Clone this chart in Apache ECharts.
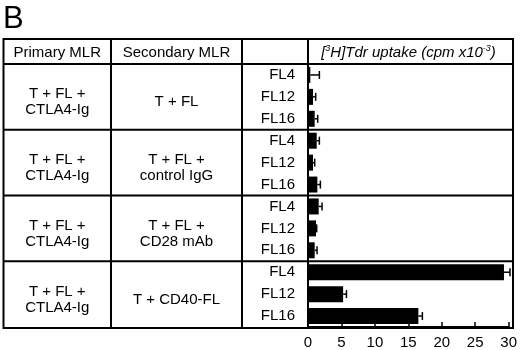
<!DOCTYPE html>
<html><head><meta charset="utf-8">
<script src="https://cdn.jsdelivr.net/npm/echarts@6/dist/echarts.min.js"></script>
<style>html,body{margin:0;padding:0;background:#fff}#c{width:520px;height:350px}</style>
</head><body><div id="c"></div>
<script>
// ---- data ----
const lines = ['FL4', 'FL12', 'FL16'];
const primaryMLR = ['T + FL +\nCTLA4-Ig', 'T + FL +\nCTLA4-Ig', 'T + FL +\nCTLA4-Ig', 'T + FL +\nCTLA4-Ig'];
const secondaryMLR = ['T + FL', 'T + FL +\ncontrol IgG', 'T + FL +\nCD28 mAb', 'T + CD40-FL'];
const uptake = [0.35, 0.75, 1.0, 1.3, 0.75, 1.4, 1.6, 1.2, 1.0, 29.3, 5.25, 16.5];
const uptakeErr = [1.35, 0.4, 0.45, 0.4, 0.25, 0.45, 0.5, 0.1, 0.35, 0.9, 0.5, 0.6];
const xMin = 0, xMax = 30, xStep = 5;
const headers = ['Primary MLR', 'Secondary MLR'];

const catIds = [];
secondaryMLR.forEach((g, gi) => lines.forEach(l => catIds.push('g' + gi + '|' + l)));

const FONT = '"Liberation Sans", Arial, sans-serif';
const chart = echarts.init(document.getElementById('c'), null, {renderer: 'canvas'});
const gridTop = 64, gridBottom = 22, gridLeft = 308, gridRight = 11;

chart.setOption({
  animation: false,
  backgroundColor: '#fff',
  grid: {left: gridLeft, right: gridRight, top: gridTop, bottom: gridBottom},
  xAxis: {
    type: 'value', min: xMin, max: xMax, interval: xStep,
    axisLine: {show: true, lineStyle: {color: '#000', width: 2}},
    axisTick: {show: true, inside: true, length: 5, lineStyle: {color: '#000', width: 1.5}},
    axisLabel: {color: '#000', fontFamily: FONT, fontSize: 15, margin: 8},
    splitLine: {show: false}
  },
  yAxis: {
    type: 'category', inverse: true, data: catIds,
    axisLine: {show: true, lineStyle: {color: '#000', width: 2}},
    axisTick: {show: false},
    axisLabel: {color: '#000', fontFamily: FONT, fontSize: 15, margin: 13,
      formatter: v => v.split('|')[1]},
    splitLine: {show: false}
  },
  series: [
    {type: 'bar', data: uptake, barWidth: 16, itemStyle: {color: '#000'}, z: 3},
    {type: 'custom', z: 4,
      data: uptake.map((v, i) => [v, catIds[i], uptakeErr[i]]),
      encode: {x: 0, y: 1},
      renderItem: function (params, api) {
        const v = api.value(0), idx = api.value(1), e = api.value(2);
        const a = api.coord([v, idx]), b = api.coord([v + e, idx]);
        const st = {stroke: '#000', lineWidth: 1.5};
        return {type: 'group', children: [
          {type: 'line', shape: {x1: a[0], y1: a[1], x2: b[0], y2: b[1]}, style: st},
          {type: 'line', shape: {x1: b[0], y1: b[1] - 4, x2: b[0], y2: b[1] + 4}, style: st}
        ]};
      }}
  ]
});

// ---- table frame & text (positions derived from the axis) ----
const H = 350;
const tLeft = 3.5, tRight = 513, tTop = 39;
const tBottom = H - gridBottom;
const c1 = 111, c2 = 242, c3 = gridLeft;
const centers = catIds.map(id => chart.convertToPixel({yAxisIndex: 0}, id));
const bounds = [gridTop];
for (let k = 1; k < secondaryMLR.length; k++) {
  bounds.push((centers[k * 3 - 1] + centers[k * 3]) / 2);
}
bounds.push(tBottom);
const stroke = {stroke: '#000', lineWidth: 2};
const gfx = [];
gfx.push({type: 'rect', shape: {x: tLeft, y: tTop, width: tRight - tLeft, height: tBottom - tTop}, style: {fill: 'none', stroke: '#000', lineWidth: 2}, z: 10});
gfx.push({type: 'line', shape: {x1: tLeft, y1: gridTop, x2: tRight, y2: gridTop}, style: stroke, z: 10});
[c1, c2].forEach(x => gfx.push({type: 'line', shape: {x1: x, y1: tTop, x2: x, y2: tBottom}, style: stroke, z: 10}));
gfx.push({type: 'line', shape: {x1: c3, y1: tTop, x2: c3, y2: gridTop}, style: stroke, z: 10});
for (let i = 1; i < bounds.length - 1; i++) {
  gfx.push({type: 'line', shape: {x1: tLeft, y1: bounds[i], x2: tRight, y2: bounds[i]}, style: stroke, z: 10});
}
const txt = (x, y, text, extra) => Object.assign({type: 'text', x: x, y: y, z: 11,
  style: Object.assign({text: text, fill: '#000', font: '15px ' + FONT, textAlign: 'center', textVerticalAlign: 'middle', lineHeight: 16}, extra || {})});
const hy = (tTop + gridTop) / 2 + 1;
gfx.push(txt((tLeft + c1) / 2, hy, headers[0]));
gfx.push(txt((c1 + c2) / 2, hy, headers[1]));
gfx.push({type: 'text', x: (c3 + tRight) / 2 - 2, y: hy, z: 11, style: {
  text: '[{s|3}H]Tdr uptake (cpm x10{s|-3})', fill: '#000', font: 'italic 15px ' + FONT,
  textAlign: 'center', textVerticalAlign: 'middle',
  rich: {s: {fontSize: 9, fontStyle: 'italic', fontFamily: FONT, verticalAlign: 'top', padding: [0, 0, 8, 0]}}
}});
for (let r = 0; r < secondaryMLR.length; r++) {
  const cy = (bounds[r] + bounds[r + 1]) / 2 + 5;
  gfx.push(txt((tLeft + c1) / 2, cy, primaryMLR[r]));
  gfx.push(txt((c1 + c2) / 2, cy, secondaryMLR[r]));
}
gfx.push({type: 'text', x: 3, y: 19, z: 11, style: {text: 'B', fill: '#000', font: '31px ' + FONT, textAlign: 'left', textVerticalAlign: 'middle'}});
chart.setOption({graphic: gfx});
</script></body></html>
